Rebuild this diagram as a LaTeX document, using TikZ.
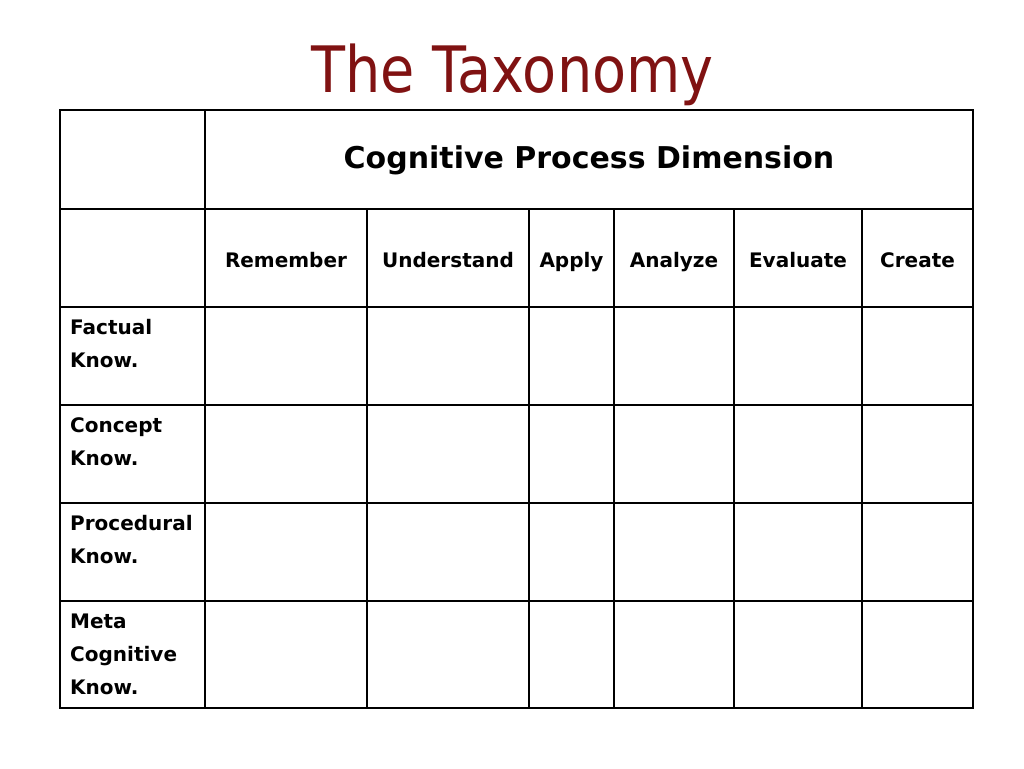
\documentclass[tikz,border=0pt]{standalone}
\usepackage{fontspec}
\setmainfont{DejaVu Sans}
\newfontfamily\titlefont[FakeStretch=0.87]{DejaVu Sans}
\usepackage{xcolor}
\definecolor{titlered}{RGB}{128,18,18}

\begin{document}
\begin{tikzpicture}[x=1pt,y=-1pt,
  outer/.style={line width=2.8pt},
  inner/.style={line width=1.2pt},
  head/.style={font=\bfseries\fontsize{20}{24}\selectfont,inner sep=0pt,anchor=base},
  rowlab/.style={font=\bfseries\fontsize{20}{33}\selectfont,inner sep=0pt,anchor=north west,align=left}]
\useasboundingbox[fill=white] (0,0) rectangle (1024,768);
% Title
\node[titlered,font=\titlefont\fontsize{64}{68}\selectfont,inner sep=0pt,anchor=base] (title) at (512.5,92) {The Taxonomy};
% Drawing horizontal lines
\draw[inner] (60,209) -- (973,209);
\draw[inner] (60,307) -- (973,307);
\draw[inner] (60,405) -- (973,405);
\draw[inner] (60,503) -- (973,503);
\draw[inner] (60,601) -- (973,601);
% Drawing vertical lines
\draw[inner] (205,110) -- (205,708);
\draw[inner] (367,209) -- (367,708);
\draw[inner] (529,209) -- (529,708);
\draw[inner] (614,209) -- (614,708);
\draw[inner] (734,209) -- (734,708);
\draw[inner] (862,209) -- (862,708);
% Outer frame
\draw[outer] (60,110) rectangle (973,708);
% Done with lines
% Header
\node[head,font=\bfseries\fontsize{30}{34}\selectfont] (dim) at (589,168) {Cognitive Process Dimension};
\node[head] (remember) at (286,267) {Remember};
\node[head] (understand) at (448,267) {Understand};
\node[head] (apply) at (571.5,267) {Apply};
\node[head] (analyze) at (674,267) {Analyze};
\node[head] (evaluate) at (798,267) {Evaluate};
\node[head] (create) at (917.5,267) {Create};
% Row labels
\node[rowlab] (factual) at (70,318) {\rule{0pt}{16pt}Factual\\Know.};
\node[rowlab] (concept) at (70,416) {\rule{0pt}{16pt}Concept\\Know.};
\node[rowlab] (procedural) at (70,514) {\rule{0pt}{16pt}Procedural\\Know.};
\node[rowlab] (meta) at (70,612) {\rule{0pt}{16pt}Meta\\Cognitive\\Know.};
\end{tikzpicture}
\end{document}
